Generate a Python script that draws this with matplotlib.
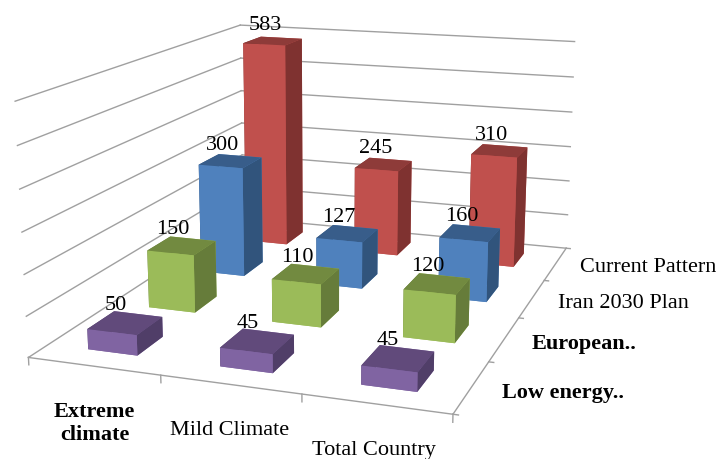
import numpy as np
import matplotlib
matplotlib.use('Agg')
import matplotlib.pyplot as plt
from mpl_toolkits.mplot3d import proj3d

plt.rcParams['font.family'] = ['Liberation Serif', 'DejaVu Serif']

categories = ['Extreme\nclimate', 'Mild Climate', 'Total Country']
series_names = ['Low energy..', 'European..', 'Iran 2030 Plan', 'Current Pattern']
low_energy = [50, 45, 45]
european = [150, 110, 120]
iran_plan = [300, 127, 160]
current_pattern = [583, 245, 310]
all_series = [low_energy, european, iran_plan, current_pattern]
levels = [0, 100, 200, 300, 400, 500, 600]

# front, side, top of each bar
face_colors = [('#8064A2', '#503E68', '#614A7B'),
               ('#9BBB59', '#667C3A', '#728A40'),
               ('#4F81BD', '#31547C', '#385D8A'),
               ('#C0504D', '#7F3230', '#8E3B39')]
grid_color = '#A0A0A0'
bar_w, bar_d = 0.38, 0.42

W, H = 722, 459
L, left, bottom = 665.31, -14.23, -67.17

fig = plt.figure(figsize=(W/100, H/100), dpi=100)
ax = fig.add_axes([left/W, bottom/H, L/W, L/H], projection='3d', computed_zorder=False)
ax.view_init(elev=14.022, azim=-70.695)
ax.set_proj_type('persp', focal_length=0.4114)
ax.set_box_aspect((1, 1.2822, 0.5957))

# walls and floor
for z in levels:
    ax.plot([0, 0], [0, 4], [z, z], color=grid_color, lw=1, zorder=1)
    ax.plot([0, 3], [4, 4], [z, z], color=grid_color, lw=1, zorder=1)
ax.plot([0, 3], [0, 0], [0, 0], color=grid_color, lw=1, zorder=1)
ax.plot([3, 3], [0, 4], [0, 0], color=grid_color, lw=1, zorder=1)

# tick marks along the two floor edges
for i in range(len(categories) + 1):
    ax.plot([i, i], [0, 0], [0, -18], color=grid_color, lw=1, zorder=1)
for j in range(len(series_names) + 1):
    ax.plot([3, 3.035], [j, j], [0, 0], color=grid_color, lw=1, zorder=1)

# back row first so nearer bars cover it
zo = 2
for j in range(3, -1, -1):
    fc, sc, tc = face_colors[j]
    for i in range(3):
        v = all_series[j][i]
        ax.bar3d(i+.5-bar_w/2, j+.5-bar_d/2, 0, bar_w, bar_d, v,
                 color=[fc, tc, fc, fc, sc, sc], shade=False, zorder=zo)
        zo += 1

ax.set_xlim(0, 3)
ax.set_ylim(0, 4)
ax.set_zlim(0, 600)
ax.set_xticks([])
ax.set_yticks([])
ax.set_zticks([])
ax.set_axis_off()

def label(x, y, z, s, **kw):
    # project by hand so the text stays a plain 2D artist
    px, py, _ = proj3d.proj_transform(x, y, z, ax.get_proj())
    ax.text2D(px, py, s, transform=ax.transData, fontsize=16, zorder=50, **kw)

for j in range(4):
    for i in range(3):
        v = all_series[j][i]
        label(i+.43, j+.5, v + 16, str(v), ha='center', va='bottom')

cat_drop = [-140, -110, -106]
cat_bold = ['bold', 'normal', 'normal']
for i, name in enumerate(categories):
    label(i+.49, 0, cat_drop[i], name, ha='center', va='center',
          fontweight=cat_bold[i], linespacing=1.25)

ser_bold = ['bold', 'bold', 'normal', 'normal']
for j, name in enumerate(series_names):
    label(3.2, j+.5, -5, name, ha='left', va='center', fontweight=ser_bold[j])

fig.savefig('out.png', dpi=100)
